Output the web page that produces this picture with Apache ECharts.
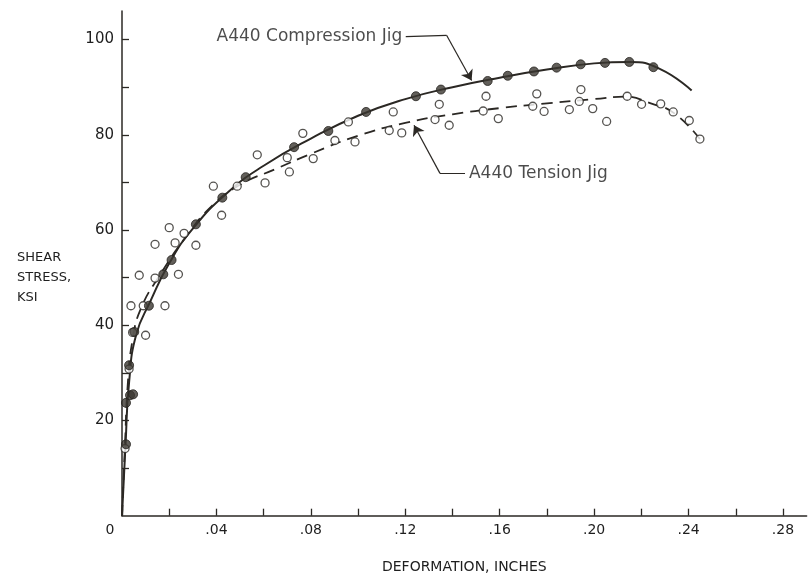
<!DOCTYPE html>
<html>
<head>
<meta charset="utf-8">
<script src="https://cdn.jsdelivr.net/npm/echarts@6/dist/echarts.min.js"></script>
<style>
html,body{margin:0;padding:0;background:#fff;}
#chart{width:809px;height:577px;}
</style>
</head>
<body>
<div id="chart"></div>
<script>
// ---- data ----
// Compression jig test points (deformation in., shear stress ksi)
var compressionPoints = [
  [0.0017,15.0],[0.0017,23.7],[0.0034,25.3],[0.0047,25.5],[0.0030,31.6],[0.0052,38.6],
  [0.0114,44.1],[0.0175,50.7],[0.0210,53.7],[0.0313,61.2],[0.0425,66.8],[0.0524,71.1],
  [0.0729,77.4],[0.0874,80.8],[0.1034,84.8],[0.1245,88.1],[0.1351,89.5],[0.1549,91.3],
  [0.1634,92.4],[0.1745,93.3],[0.1841,94.1],[0.1943,94.8],[0.2046,95.1],[0.2149,95.3],
  [0.2251,94.2]
];
// Tension jig test points
var tensionPoints = [
  [0.0013,14.1],[0.0030,30.8],[0.0045,38.5],[0.0100,37.9],[0.0038,44.1],[0.0090,44.1],
  [0.0182,44.1],[0.0073,50.5],[0.0140,49.9],[0.0239,50.7],[0.0140,57.0],[0.0200,60.5],
  [0.0225,57.3],[0.0263,59.3],[0.0313,56.8],[0.0422,63.1],[0.0387,69.2],[0.0488,69.2],
  [0.0606,69.9],[0.0573,75.8],[0.0700,75.2],[0.0709,72.2],[0.0766,80.3],[0.0810,75.0],
  [0.0902,78.8],[0.0959,82.7],[0.0987,78.5],[0.1149,84.8],[0.1132,80.9],[0.1185,80.4],
  [0.1344,86.4],[0.1326,83.2],[0.1386,82.0],[0.1542,88.1],[0.1530,85.0],[0.1594,83.4],
  [0.1757,88.6],[0.1740,86.0],[0.1788,84.9],[0.1895,85.3],[0.1944,89.5],[0.1937,87.0],
  [0.1994,85.5],[0.2053,82.8],[0.2140,88.1],[0.2201,86.4],[0.2282,86.5],[0.2335,84.8],
  [0.2403,83.0],[0.2448,79.1]
];
// Faired curves as drawn in the reference
var compressionCurve = [
  [0,0],[0.0015,15],[0.003,28],[0.006,38],[0.012,45],[0.020,53],[0.030,60.3],[0.045,68],
  [0.060,73.5],[0.080,79.2],[0.100,84],[0.120,87.5],[0.140,90],[0.160,92],[0.180,93.7],
  [0.200,95],[0.215,95.3],[0.228,93.8],[0.2413,89.3]
];
var tensionCurve = [
  [0,0],[0.0012,14],[0.0025,28],[0.0045,37],[0.008,43.5],[0.016,50.5],[0.027,58.5],
  [0.038,65],[0.050,69.5],[0.065,72.8],[0.080,76],[0.100,79.8],[0.120,82.5],[0.140,84.3],
  [0.160,85.6],[0.180,86.6],[0.200,87.5],[0.213,88],[0.224,86.6],[0.234,84.5],[0.2448,79.1]
];
// Axis ticks and labels
var xTickValues = [0,0.02,0.04,0.06,0.08,0.10,0.12,0.14,0.16,0.18,0.20,0.22,0.24,0.26,0.28];
var xLabelValues = [0,0.04,0.08,0.12,0.16,0.20,0.24,0.28];
var xLabelTexts = ['0','.04','.08','.12','.16','.20','.24','.28'];
var yTickValues = [10,20,30,40,50,60,70,80,90,100];
var yLabelValues = [20,40,60,80,100];
var yLabelTexts = ['20','40','60','80','100'];
var seriesNames = ['A440 Compression Jig','A440 Tension Jig'];
var xAxisTitle = 'DEFORMATION, INCHES';
var yAxisTitle = 'SHEAR\nSTRESS,\nKSI';

var INK = '#2b2824';
var FONT = 'DejaVu Sans';

function labelFor(values, texts, v){
  for (var i=0;i<values.length;i++){ if (Math.abs(values[i]-v) < 1e-9) return texts[i]; }
  return '';
}

var chart = echarts.init(document.getElementById('chart'), null, {renderer:'canvas'});
chart.setOption({
  backgroundColor:'#ffffff',
  animation:false,
  title:{
    text:yAxisTitle, left:17, top:248, padding:0,
    textStyle:{color:'#1e1e1e', fontFamily:FONT, fontSize:13, fontWeight:'normal', lineHeight:20}
  },
  grid:{left:122, right:2.4, top:11, bottom:61.3, containLabel:false, outerBoundsMode:'none'},
  xAxis:{
    type:'value', min:0, max:0.29,
    splitLine:{show:false},
    axisLine:{show:true, lineStyle:{color:INK, width:1.5}},
    axisTick:{show:true, inside:true, length:7, customValues:xTickValues, lineStyle:{color:INK, width:1.3}},
    axisLabel:{
      customValues:xLabelValues, margin:8, color:'#1e1e1e', fontFamily:FONT, fontSize:14,
      formatter:function(v){ var t = labelFor(xLabelValues, xLabelTexts, v); return v===0 ? '{z|'+t+'}' : t; },
      rich:{z:{padding:[0,24,0,0], fontFamily:FONT, fontSize:14, color:'#1e1e1e'}}
    },
    name:xAxisTitle, nameLocation:'middle', nameGap:45,
    nameTextStyle:{color:'#1e1e1e', fontFamily:FONT, fontSize:14}
  },
  yAxis:{
    type:'value', min:0, max:106,
    splitLine:{show:false},
    axisLine:{show:true, lineStyle:{color:INK, width:1.5}},
    axisTick:{show:true, inside:true, length:7, customValues:yTickValues, lineStyle:{color:INK, width:1.3}},
    axisLabel:{
      customValues:yLabelValues, margin:8, color:'#1e1e1e', fontFamily:FONT, fontSize:15,
      formatter:function(v){ return labelFor(yLabelValues, yLabelTexts, v); }
    }
  },
  series:[
    {
      name:seriesNames[0]+' curve', type:'line', data:compressionCurve, showSymbol:false, symbol:'none',
      smooth:0.5, lineStyle:{color:INK, width:2}, z:2
    },
    {
      name:seriesNames[1]+' curve', type:'line', data:tensionCurve, showSymbol:false, symbol:'none',
      smooth:0.5, lineStyle:{color:INK, width:1.8, type:[11,7]}, z:2
    },
    {
      name:seriesNames[0], type:'scatter', data:compressionPoints, symbol:'circle', symbolSize:9,
      itemStyle:{color:'#3b3731', borderColor:'#26231f', borderWidth:1}, z:4
    },
    {
      name:seriesNames[1], type:'scatter', data:tensionPoints, symbol:'circle', symbolSize:8,
      itemStyle:{color:'#ffffff', borderColor:INK, borderWidth:1.3}, z:3
    },
    {
      name:'leader lines', type:'lines', coordinateSystem:'cartesian2d',
      symbol:'none',
      lineStyle:{color:INK, width:1.2, opacity:1, curveness:0},
      data:[
        {coords:[[0.1202,100.6],[0.1375,100.9]]},
        {coords:[[0.1453,71.9],[0.1347,71.9]]}
      ], z:5
    },
    {
      name:'leader arrows', type:'lines', coordinateSystem:'cartesian2d',
      symbol:['none','arrow'], symbolSize:10,
      lineStyle:{color:INK, width:1.2, opacity:1, curveness:0},
      data:[
        {coords:[[0.1375,100.9],[0.1481,91.4]]},
        {coords:[[0.1347,71.9],[0.1237,82.0]]}
      ], z:5
    },
    {
      name:'labels', type:'scatter', symbolSize:0, silent:true,
      data:[
        {value:[0.1200,100.6], label:{show:true, position:'left', distance:3, formatter:seriesNames[0]}},
        {value:[0.1457,71.9], label:{show:true, position:'right', distance:3, formatter:seriesNames[1]}}
      ],
      label:{color:'#1e1e1e', fontFamily:FONT, fontSize:17}, z:6
    }
  ]
});
</script>
</body>
</html>
